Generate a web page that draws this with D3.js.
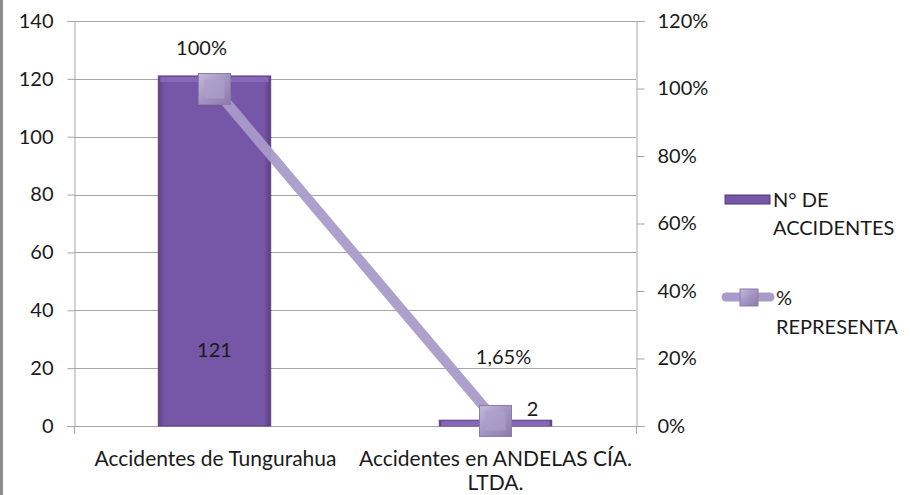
<!DOCTYPE html>
<html><head><meta charset="utf-8">
<script src="https://cdn.jsdelivr.net/npm/d3@7"></script>
<style>body{margin:0;background:#fff}svg{display:block;font-family:Lato,"Open Sans",sans-serif}</style>
</head><body><svg id="c" width="910" height="495"></svg>
<script>
const categories = ["Accidentes de Tungurahua", "Accidentes en ANDELAS CÍA. LTDA."];
const accidentes = [121, 2];
const porcentaje = [1.0, 0.0165];
const pctLabels = ["100%", "1,65%"];
const leftTicks = [0,20,40,60,80,100,120,140];
const rightTicks = [0,0.2,0.4,0.6,0.8,1.0,1.2];
const seriesNames = ["N° DE ACCIDENTES", "% REPRESENTA"];

const FS = 20;
const svg = d3.select("#c");
const L = 74, R = 636, T = 21, B = 426;
const x = d3.scaleBand().domain(categories).range([L, R]).paddingInner(0.6).paddingOuter(0.3);
const xc = d3.scalePoint().domain(categories).range([L, R]).padding(0.5);
const y = d3.scaleLinear().domain([0,140]).range([B, T]);
const y2 = d3.scaleLinear().domain([0,1.2]).range([B, T]);

const defs = svg.append("defs");
const g1 = defs.append("linearGradient").attr("id","barH").attr("x1",0).attr("x2",1).attr("y1",0).attr("y2",0);
g1.append("stop").attr("offset","0").attr("stop-color","#5f4488");
g1.append("stop").attr("offset","0.06").attr("stop-color","#7656a6");
g1.append("stop").attr("offset","0.94").attr("stop-color","#7656a6");
g1.append("stop").attr("offset","1").attr("stop-color","#5a3f82");
const g2 = defs.append("linearGradient").attr("id","mk").attr("x1",0).attr("x2",1).attr("y1",0).attr("y2",1);
g2.append("stop").attr("offset","0").attr("stop-color","#c4b8dc");
g2.append("stop").attr("offset","0.5").attr("stop-color","#a395c2");
g2.append("stop").attr("offset","1").attr("stop-color","#8a7aaa");

svg.append("rect").attr("x",0).attr("y",0).attr("width",3).attr("height",495).attr("fill","#8c8c8c");

svg.append("g").selectAll("line").data(leftTicks).join("line")
  .attr("x1",L).attr("x2",R).attr("y1",d=>Math.round(y(d))+0.5).attr("y2",d=>Math.round(y(d))+0.5)
  .attr("stroke","#a6a6a6").attr("stroke-width",1);

const ax = svg.append("g").attr("transform",`translate(${L+0.5},0)`)
  .call(d3.axisLeft(y).tickValues(leftTicks).tickSize(7).tickPadding(14));
const ax2 = svg.append("g").attr("transform",`translate(${R+0.5},0)`)
  .call(d3.axisRight(y2).tickValues(rightTicks).tickSize(8).tickPadding(13).tickFormat(d=>Math.round(d*100)+"%"));
[ax,ax2].forEach(a=>{a.select(".domain").attr("stroke","#a6a6a6");a.selectAll(".tick line").attr("stroke","#a6a6a6");
  a.selectAll("text").attr("font-size",FS).attr("font-family","Lato").attr("fill","#1a1a1a");});
svg.append("line").attr("x1",L-7).attr("x2",R+8).attr("y1",B+0.5).attr("y2",B+0.5).attr("stroke","#a6a6a6");
svg.append("line").attr("x1",L+0.5).attr("x2",L+0.5).attr("y1",B).attr("y2",B+8).attr("stroke","#a6a6a6");
svg.append("line").attr("x1",R+0.5).attr("x2",R+0.5).attr("y1",B).attr("y2",B+8).attr("stroke","#a6a6a6");

svg.append("g").selectAll("rect").data(categories).join("rect")
  .attr("x",d=>x(d)).attr("width",x.bandwidth())
  .attr("y",(d,i)=>y(accidentes[i])).attr("height",(d,i)=>B-y(accidentes[i]))
  .attr("fill","url(#barH)").attr("stroke","#5a4080").attr("stroke-width",1);
svg.append("g").selectAll("rect").data(categories).join("rect")
  .attr("x",d=>x(d)+2).attr("width",x.bandwidth()-4)
  .attr("y",(d,i)=>y(accidentes[i])+1).attr("height",(d,i)=>Math.min(5,B-y(accidentes[i])-1))
  .attr("fill","#8c6cbc").attr("opacity",0.8);

const line = d3.line().x((d,i)=>xc(categories[i])).y(d=>y2(d));
svg.append("path").datum(porcentaje).attr("d",line).attr("fill","none")
  .attr("stroke","#a99bc9").attr("stroke-width",10).attr("opacity",0.95);

const mk = svg.append("g").selectAll("g").data(porcentaje).join("g")
  .attr("transform",(d,i)=>`translate(${xc(categories[i])},${y2(d)})`);
mk.append("rect").attr("x",-16).attr("y",-15).attr("width",32).attr("height",31)
  .attr("fill","url(#mk)").attr("stroke","#8a7ca8").attr("stroke-width",1);
mk.append("rect").attr("x",-10).attr("y",-9).attr("width",20).attr("height",19)
  .attr("fill","#ad9fcb").attr("opacity",0.7);

const lab = svg.append("g").attr("font-size",FS).attr("fill","#1a1a1a");
lab.selectAll("text.p").data(porcentaje).join("text").attr("class","p")
  .attr("x",(d,i)=>xc(categories[i])+(i===0?-13:8)).attr("y",(d,i)=>y2(d)-(i===0?34:56))
  .attr("text-anchor","middle").text((d,i)=>pctLabels[i]);
lab.selectAll("text.v").data(accidentes).join("text").attr("class","v")
  .attr("x",(d,i)=>xc(categories[i])+(i===0?0:37)).attr("y",(d,i)=>i===0?y(d/2)+6+100:y(d)-4)
  .attr("text-anchor","middle").text(d=>d);

const cl = svg.append("g").attr("font-size",FS+1).attr("fill","#1a1a1a");
cl.append("text").attr("x",xc(categories[0])+1).attr("y",466).attr("text-anchor","middle").text(categories[0]);
cl.append("text").attr("x",xc(categories[1])).attr("y",466).attr("text-anchor","middle").text("Accidentes en ANDELAS CÍA.");
cl.append("text").attr("x",xc(categories[1])).attr("y",490).attr("text-anchor","middle").text("LTDA.");

const lg = svg.append("g").attr("font-size",FS).attr("fill","#1a1a1a");
lg.append("rect").attr("x",725).attr("y",195).attr("width",45).attr("height",9).attr("fill","#7656a6").attr("stroke","#4f3875");
lg.append("text").attr("x",773).attr("y",207).text("N° DE");
lg.append("text").attr("x",773).attr("y",235).text("ACCIDENTES");
lg.append("line").attr("x1",726).attr("x2",770).attr("y1",297).attr("y2",297).attr("stroke","#a99bc9").attr("stroke-width",9).attr("stroke-linecap","round");
lg.append("rect").attr("x",740).attr("y",289).attr("width",18).attr("height",17).attr("fill","url(#mk)").attr("stroke","#8a7ca8");
lg.append("text").attr("x",776).attr("y",305).text("%");
lg.append("text").attr("x",776).attr("y",334).text("REPRESENTA");
</script></body></html>
